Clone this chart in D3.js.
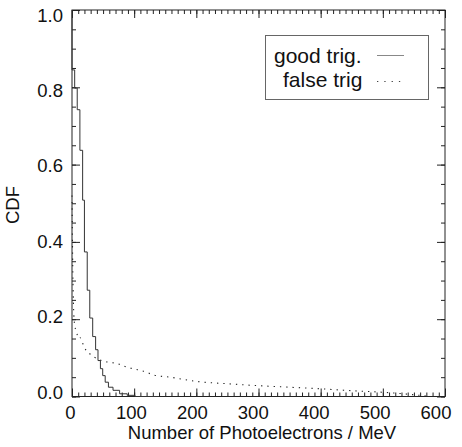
<!DOCTYPE html>
<html><head><meta charset="utf-8">
<script src="https://cdn.jsdelivr.net/npm/d3@7"></script>
<style>
html,body{margin:0;padding:0;background:#fff;}
svg{display:block;font-family:"Liberation Sans",Arial,Helvetica,sans-serif;}
</style></head>
<body>
<svg id="chart" width="462" height="447"></svg>
<script>
// ---- data ----
const xTicks = [0, 100, 200, 300, 400, 500, 600];
const yTicks = [0.0, 0.2, 0.4, 0.6, 0.8, 1.0];
// good trig: step (histogram) CDF, level held from each edge to the next
const goodEdges  = [0, 4.3, 8.4, 12.7, 17.1, 20, 24.5, 28.6, 33.3, 38, 41.8, 45.7, 49.4, 53.4, 58.6, 66, 76.6, 88.8, 101.3, 140];
const goodLevels = [0.845, 0.798, 0.742, 0.637, 0.508, 0.374, 0.275, 0.203, 0.155, 0.121, 0.093, 0.072, 0.054, 0.037, 0.024, 0.016, 0.007, 0.003, 0, 0];
// false trig: dotted curve
const falseX = [0, 1, 2, 3, 4.8, 6.4, 11.7, 13, 20, 29, 40, 55, 73.5, 88, 98, 120, 130, 158, 200, 250, 300, 350, 400, 450, 500, 540, 565, 575];
const falseY = [0.52, 0.36, 0.26, 0.21, 0.18, 0.171, 0.15, 0.152, 0.126, 0.110, 0.098, 0.090, 0.085, 0.076, 0.072, 0.063, 0.056, 0.050, 0.039, 0.033, 0.028, 0.024, 0.020, 0.015, 0.011, 0.006, 0.002, 0];
const legendLabels = ["good trig.", "false trig"];
const xTitle = "Number of Photoelectrons / MeV";
const yTitle = "CDF";

// ---- layout ----
const svg = d3.select("#chart");
const x = d3.scaleLinear().domain([0, 600]).range([72, 445]);
const y = d3.scaleLinear().domain([0, 1]).range([396.5, 10]);
// tick labels sit slightly inside the tick positions in the reference
const xLab = d3.scaleLinear().domain([0, 600]).range([70.5, 436]);
const yLab = d3.scaleLinear().domain([0, 1]).range([392, 15]);
const X0 = x(0), X1 = x(600), Y0 = y(0), Y1 = y(1);

const xMinor = d3.range(0, 601, 10);
const yMinor = d3.range(0, 1.0001, 0.05).map(v => +v.toFixed(2));
const FONT = '"Liberation Sans",Arial,sans-serif';

function styleAxis(g) {
  g.select(".domain").remove();
  g.selectAll("line").attr("stroke", "#222").attr("stroke-width", 1);
}

// minor ticks on four sides
svg.append("g").attr("transform", `translate(0,${Y0})`)
  .call(d3.axisBottom(x).tickValues(xMinor).tickSize(-4).tickFormat("")).call(styleAxis);
svg.append("g").attr("transform", `translate(0,${Y1})`)
  .call(d3.axisTop(x).tickValues(xMinor).tickSize(-4).tickFormat("")).call(styleAxis);
svg.append("g").attr("transform", `translate(${X0},0)`)
  .call(d3.axisLeft(y).tickValues(yMinor).tickSize(-4).tickFormat("")).call(styleAxis);
svg.append("g").attr("transform", `translate(${X1},0)`)
  .call(d3.axisRight(y).tickValues(yMinor).tickSize(-4).tickFormat("")).call(styleAxis);

// major ticks
svg.append("g").attr("transform", `translate(0,${Y0})`)
  .call(d3.axisBottom(x).tickValues(xTicks).tickSize(-8).tickFormat("")).call(styleAxis);
svg.append("g").attr("transform", `translate(0,${Y1})`)
  .call(d3.axisTop(x).tickValues(xTicks).tickSize(-8).tickFormat("")).call(styleAxis);
svg.append("g").attr("transform", `translate(${X0},0)`)
  .call(d3.axisLeft(y).tickValues(yTicks).tickSize(-8).tickFormat("")).call(styleAxis);
svg.append("g").attr("transform", `translate(${X1},0)`)
  .call(d3.axisRight(y).tickValues(yTicks).tickSize(-8).tickFormat("")).call(styleAxis);

// tick labels
svg.append("g").selectAll("text").data(xTicks).join("text")
  .attr("x", d => xLab(d)).attr("y", 419).attr("text-anchor", "middle")
  .style("font-size", "18.5px").style("font-family", FONT).attr("fill", "#111")
  .text(d3.format("d"));
svg.append("g").selectAll("text").data(yTicks).join("text")
  .attr("x", 63).attr("y", d => yLab(d)).attr("dy", "0.36em").attr("text-anchor", "end")
  .style("font-size", "18.5px").style("font-family", FONT).attr("fill", "#111")
  .text(d3.format(".1f"));

// frame
svg.append("rect").attr("x", X0).attr("y", Y1).attr("width", X1 - X0).attr("height", Y0 - Y1)
  .attr("fill", "none").attr("stroke", "#222").attr("stroke-width", 1);

// curves
const goodPts = [[0, 1.0]].concat(goodEdges.map((e, i) => [e, goodLevels[i]]));
const stepLine = d3.line().x(d => x(d[0])).y(d => y(d[1])).curve(d3.curveStepAfter);
svg.append("path").attr("d", stepLine(goodPts)).attr("fill", "none")
  .attr("stroke", "#333").attr("stroke-width", 1);

const falsePts = falseX.map((v, i) => [v, falseY[i]]);
const smooth = d3.line().x(d => x(d[0])).y(d => y(d[1])).curve(d3.curveMonotoneX);
svg.append("path").attr("d", smooth(falsePts)).attr("fill", "none")
  .attr("stroke", "#222").attr("stroke-width", 1.1).attr("stroke-dasharray", "1.3,5");

// titles
svg.append("text").attr("x", 262).attr("y", 439).attr("text-anchor", "middle")
  .style("font-size", "18.5px").attr("fill", "#111").text(xTitle);
svg.append("text").attr("transform", "translate(19,205) rotate(-90)").attr("text-anchor", "middle")
  .style("font-size", "18.5px").attr("fill", "#111").text(yTitle);

// legend
const lg = svg.append("g");
lg.append("rect").attr("x", 265.5).attr("y", 35.5).attr("width", 163).attr("height", 64)
  .attr("fill", "#fff").attr("stroke", "#666").attr("stroke-width", 1);
lg.append("text").attr("x", 274).attr("y", 63).style("font-size", "21px").attr("fill", "#111").text(legendLabels[0]);
lg.append("text").attr("x", 283).attr("y", 87).style("font-size", "21px").attr("fill", "#111").text(legendLabels[1]);
lg.append("line").attr("x1", 377).attr("x2", 404).attr("y1", 55.5).attr("y2", 55.5)
  .attr("stroke", "#888").attr("stroke-width", 1);
lg.append("line").attr("x1", 377).attr("x2", 404).attr("y1", 81.5).attr("y2", 81.5)
  .attr("stroke", "#444").attr("stroke-width", 1.1).attr("stroke-dasharray", "1.3,6");
</script>
</body></html>
